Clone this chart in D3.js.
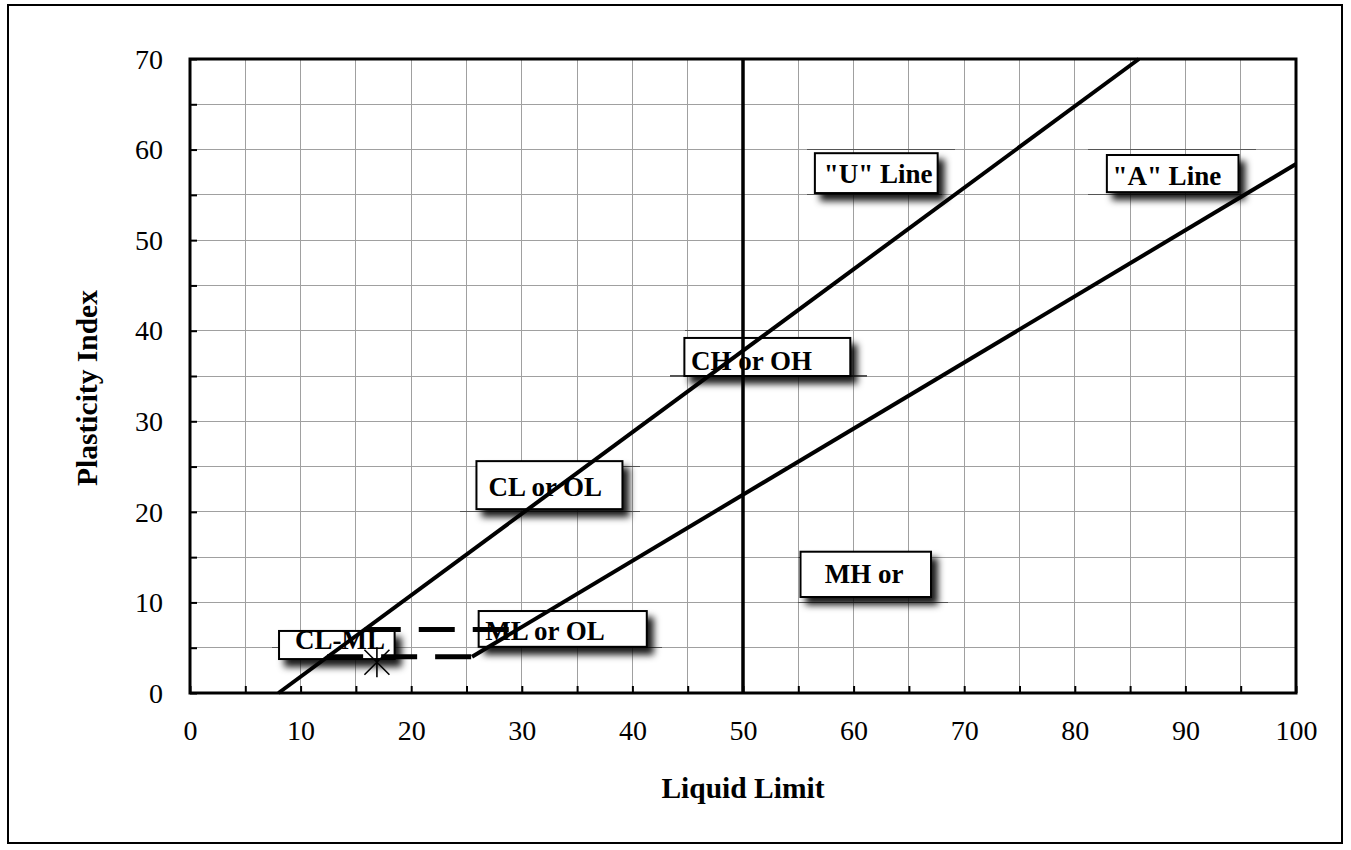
<!DOCTYPE html>
<html>
<head>
<meta charset="utf-8">
<script src="https://cdn.jsdelivr.net/npm/d3@7"></script>
<style>
  html, body { margin: 0; padding: 0; background: #fff; }
  svg { display: block; }
  text { font-family: "Liberation Serif", "Times New Roman", serif; }
</style>
</head>
<body>
<svg id="chart" width="1351" height="850"></svg>
<script>
// ---------------- data ----------------
const xTickValues = [0, 10, 20, 30, 40, 50, 60, 70, 80, 90, 100];
const yTickValues = [0, 10, 20, 30, 40, 50, 60, 70];
const gridStep = 5;

// "U" line end points (LL, PI)
const uLineLL = [8, 85.8];
const uLinePI = [0, 70];
// "A" line end points
const aLineLL = [25.5, 100];
const aLinePI = [4, 58.4];
// CL-ML band (dashed)
const bandTopLL = [15.8, 29.6];
const bandTopPI = [7, 7];
const bandBotLL = [12.4, 25.5];
const bandBotPI = [4, 4];
// LL = 50 divider
const dividerLL = [50, 50];
const dividerPI = [0, 70];
// sample point
const sampleLL = [16.9];
const samplePI = [3.4];

// zone labels: text, box (LL0, LL1, PI top, PI bottom), text anchor (LL, PI baseline)
const zoneText = ['"U" Line', '"A" Line', 'CH or OH', 'CL or OL', 'MH or', 'ML or OL', 'CL-ML'];
const zoneBoxLL0 = [56.5, 82.9, 44.7, 25.9, 55.2, 26.1, 8.05];
const zoneBoxLL1 = [67.6, 94.8, 59.7, 39.1, 67.0, 41.3, 18.5];
const zoneBoxPI0 = [59.6, 59.4, 39.2, 25.6, 15.6, 9.05, 6.85];
const zoneBoxPI1 = [55.2, 55.3, 35.0, 20.3, 10.6, 5.1, 3.75];
const zoneTextLL = [57.3, 83.4, 45.3, 27.0, 57.4, 26.7, 9.5];
const zoneTextPI = [56.3, 56.1, 35.7, 21.75, 12.1, 5.85, 4.86];
// darker grid segments around the label frames: PI level, LL from, LL to
const frameSegPI  = [60, 55, 60, 55, 40, 35, 25, 20, 15, 10, 5, 5];
const frameSegLL0 = [55.8, 55.8, 81.2, 81.2, 44.8, 43.4, 25.9, 24.4, 55.0, 55.0, 26.2, 7.4];
const frameSegLL1 = [69.2, 68.0, 96.4, 95.0, 59.7, 61.2, 40.7, 40.7, 67.0, 68.5, 42.7, 18.5];

// ---------------- layout ----------------
const svg = d3.select('#chart');
const W = 1351, H = 850;
const plot = { left: 190, right: 1296, top: 59, bottom: 693 };

const x = d3.scaleLinear().domain([0, 100]).range([plot.left, plot.right]);
const y = d3.scaleLinear().domain([0, 70]).range([plot.bottom, plot.top]);

// outer frame
svg.append('rect')
  .attr('x', 8).attr('y', 5).attr('width', 1334).attr('height', 838)
  .attr('fill', '#fff').attr('stroke', '#000').attr('stroke-width', 2);

// shadow filter
const defs = svg.append('defs');
const f = defs.append('filter').attr('id', 'shadow')
  .attr('x', '-20%').attr('y', '-40%').attr('width', '150%').attr('height', '200%');
f.append('feDropShadow').attr('dx', 6).attr('dy', 7).attr('stdDeviation', 3.5)
  .attr('flood-color', '#000').attr('flood-opacity', 0.9);

// gridlines
const gridX = d3.range(0, 100 + 0.001, gridStep);
const gridY = d3.range(0, 70 + 0.001, gridStep);
const grid = svg.append('g');
grid.selectAll('line.gx').data(gridX.filter(d => d > 0 && d < 100)).join('line')
  .attr('x1', d => x(d)).attr('x2', d => x(d))
  .attr('y1', plot.top).attr('y2', plot.bottom)
  .attr('stroke', '#a0a0a0').attr('stroke-width', 1).attr('shape-rendering', 'crispEdges');
grid.selectAll('line.gy').data(gridY.filter(d => d > 0 && d < 70)).join('line')
  .attr('y1', d => y(d)).attr('y2', d => y(d))
  .attr('x1', plot.left).attr('x2', plot.right)
  .attr('stroke', '#a0a0a0').attr('stroke-width', 1).attr('shape-rendering', 'crispEdges');

// darker frame segments
svg.append('g').selectAll('line').data(frameSegPI).join('line')
  .attr('x1', (d, i) => x(frameSegLL0[i])).attr('x2', (d, i) => x(frameSegLL1[i]))
  .attr('y1', d => y(d)).attr('y2', d => y(d))
  .attr('stroke', '#555').attr('stroke-width', 1.2).attr('shape-rendering', 'crispEdges');

// axes (inward ticks every 5)
const xAxis = d3.axisBottom(x).tickValues(gridX).tickSizeInner(-7).tickSizeOuter(0)
  .tickFormat(d => (xTickValues.includes(d) ? d : ''));
const gx = svg.append('g').attr('transform', `translate(0,${plot.bottom})`).call(xAxis);
gx.select('.domain').remove();
gx.selectAll('.tick line').attr('stroke', '#000').attr('stroke-width', 2);
gx.selectAll('.tick text').attr('y', 47).attr('dy', 0)
  .attr('font-size', 28).attr('fill', '#000')
  .attr('font-family', '"Liberation Serif", "Times New Roman", serif');

const yAxis = d3.axisLeft(y).tickValues(gridY).tickSizeInner(-7).tickSizeOuter(0)
  .tickFormat(d => (yTickValues.includes(d) ? d : ''));
const gy = svg.append('g').attr('transform', `translate(${plot.left},0)`).call(yAxis);
gy.select('.domain').remove();
gy.selectAll('.tick line').attr('stroke', '#000').attr('stroke-width', 2);
gy.selectAll('.tick text').attr('x', -27).attr('dy', '0.33em')
  .attr('font-size', 28).attr('fill', '#000')
  .attr('font-family', '"Liberation Serif", "Times New Roman", serif');

// plot border
svg.append('rect')
  .attr('x', plot.left).attr('y', plot.top)
  .attr('width', plot.right - plot.left).attr('height', plot.bottom - plot.top)
  .attr('fill', 'none').attr('stroke', '#000').attr('stroke-width', 3);

// zone label boxes
const zones = svg.append('g');
zoneText.forEach((t, i) => {
  const bx = x(zoneBoxLL0[i]), by = y(zoneBoxPI0[i]);
  const bw = x(zoneBoxLL1[i]) - bx, bh = y(zoneBoxPI1[i]) - by;
  zones.append('rect')
    .attr('x', bx).attr('y', by).attr('width', bw).attr('height', bh)
    .attr('fill', '#fff').attr('stroke', '#000').attr('stroke-width', 2)
    .attr('filter', 'url(#shadow)');
  zones.append('text')
    .attr('x', x(zoneTextLL[i])).attr('y', y(zoneTextPI[i]))
    .attr('font-size', 27).attr('font-weight', 'bold').attr('fill', '#000')
    .text(t);
});

// lines
const line = d3.line().x(d => x(d[0])).y(d => y(d[1]));
const pairs = (a, b) => a.map((v, i) => [v, b[i]]);
const lines = svg.append('g').attr('fill', 'none').attr('stroke', '#000');

lines.append('path').attr('d', line(pairs(uLineLL, uLinePI))).attr('stroke-width', 4);
lines.append('path').attr('d', line(pairs(aLineLL, aLinePI))).attr('stroke-width', 4);
lines.append('path').attr('d', line(pairs(dividerLL, dividerPI))).attr('stroke-width', 3.5);
lines.append('path').attr('d', line(pairs(bandTopLL, bandTopPI)))
  .attr('stroke-width', 5).attr('stroke-dasharray', '36,18');
lines.append('path').attr('d', line(pairs(bandBotLL, bandBotPI)))
  .attr('stroke-width', 5).attr('stroke-dasharray', '36,18');

// sample point (star marker)
const starPath = (cx, cy) => {
  const p = d3.path();
  const v = 15, dg = 12.5;
  p.moveTo(cx, cy - v); p.lineTo(cx, cy + v);
  p.moveTo(cx - dg, cy - dg); p.lineTo(cx + dg, cy + dg);
  p.moveTo(cx - dg, cy + dg); p.lineTo(cx + dg, cy - dg);
  return p.toString();
};
svg.append('g').selectAll('path').data(pairs(sampleLL, samplePI)).join('path')
  .attr('d', d => starPath(x(d[0]), y(d[1])))
  .attr('stroke', '#000').attr('stroke-width', 1.6).attr('fill', 'none');

// axis titles
svg.append('text')
  .attr('x', (plot.left + plot.right) / 2).attr('y', 798)
  .attr('text-anchor', 'middle').attr('font-size', 29.5).attr('font-weight', 'bold')
  .text('Liquid Limit');
svg.append('text')
  .attr('transform', `translate(97,388) rotate(-90)`)
  .attr('text-anchor', 'middle').attr('font-size', 29.5).attr('font-weight', 'bold')
  .text('Plasticity Index');
</script>
</body>
</html>
